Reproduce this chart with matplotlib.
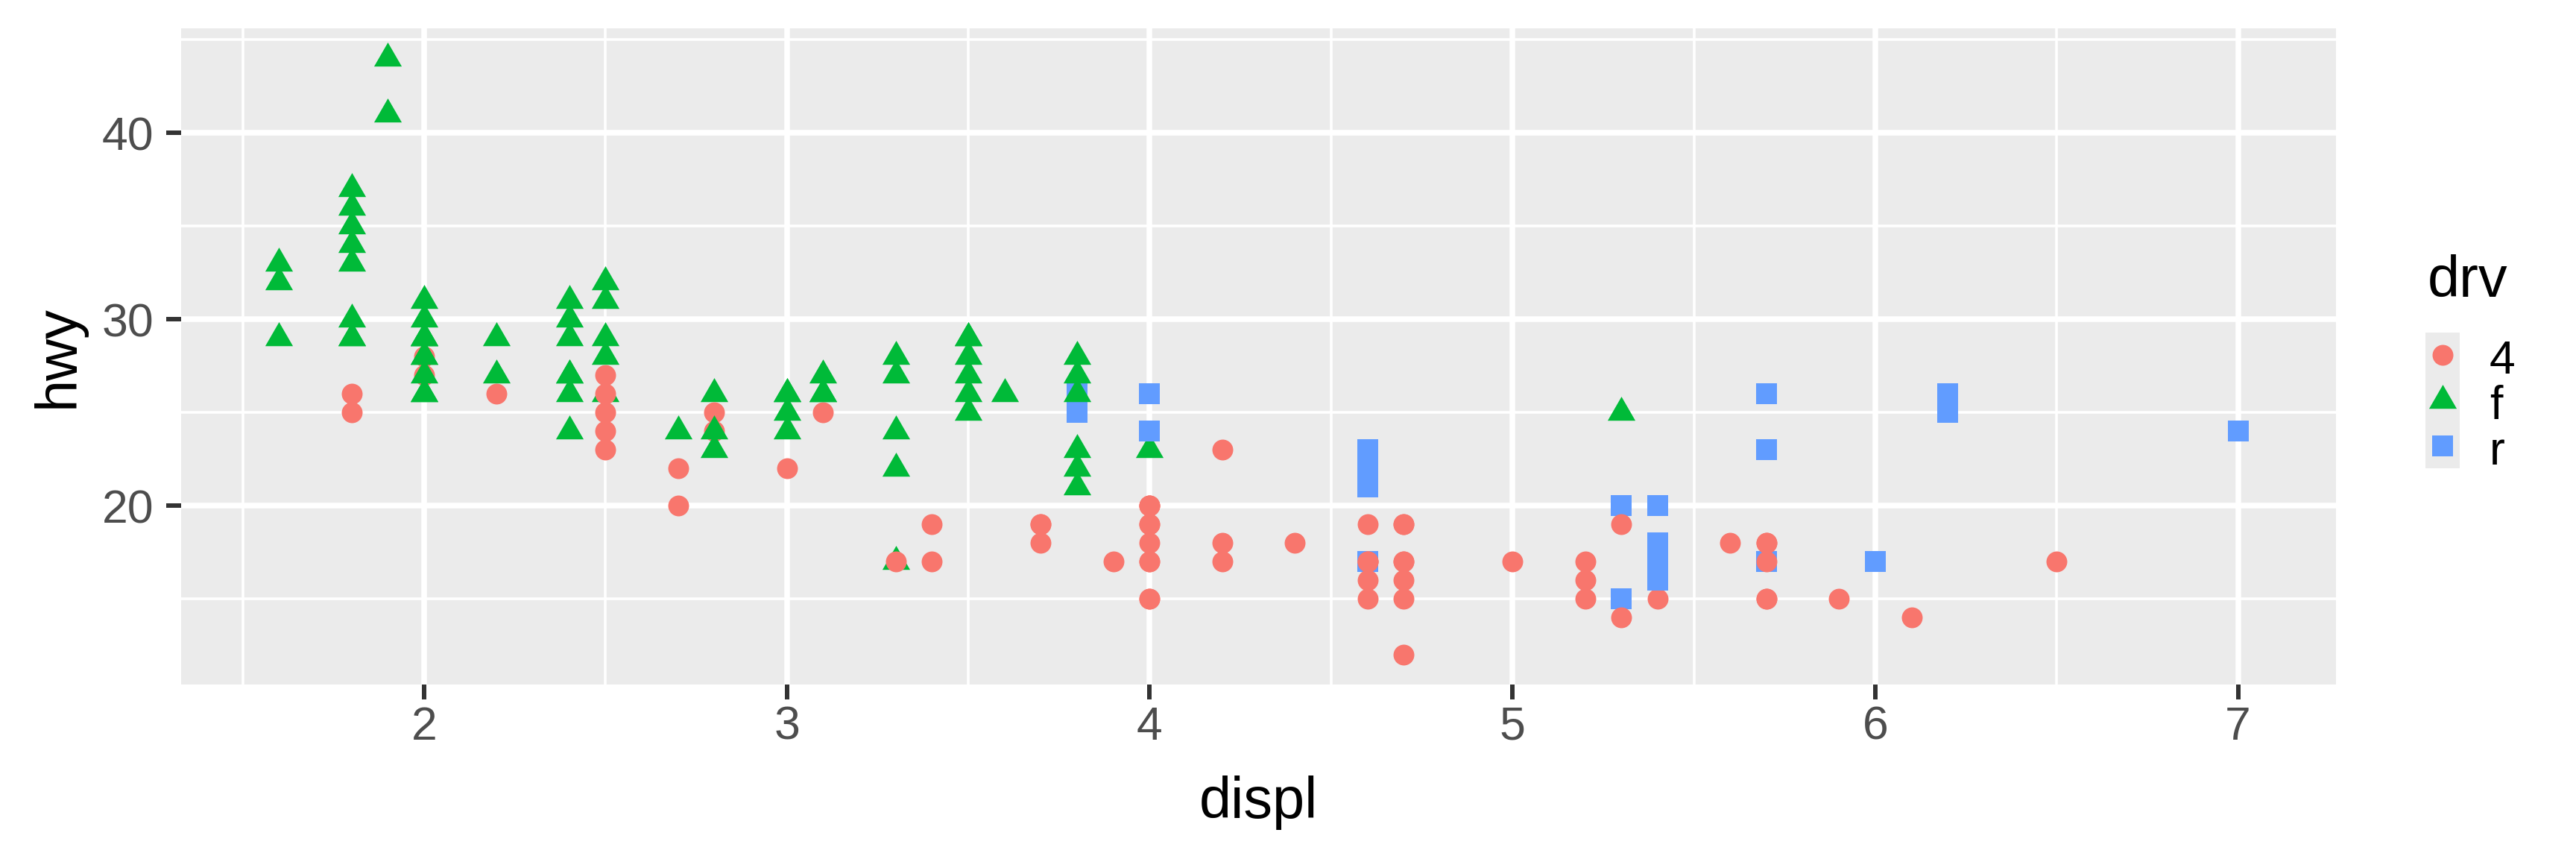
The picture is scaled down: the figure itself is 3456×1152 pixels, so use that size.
import matplotlib
matplotlib.use("Agg")
import matplotlib.pyplot as plt
from matplotlib.path import Path

plt.rcParams['font.family'] = ['Liberation Sans', 'DejaVu Sans']

# ---- data (mpg: displ vs hwy by drv), in drawing order ----
displ = [
    # audi
    1.8, 2.0, 2.0, 2.8, 3.1,
    1.8, 1.8, 2.0, 2.0, 2.8, 3.1, 2.8, 4.2,
    # chevrolet
    5.3, 5.3, 5.7, 6.0, 5.7, 5.7, 6.2, 6.2, 7.0,
    5.3, 5.3, 5.7, 6.5,
    2.4, 2.4, 3.1, 3.5, 3.6,
    # dodge
    2.4, 3.0, 3.3, 3.3, 3.3, 3.8, 3.8, 3.8, 4.0,
    3.7, 3.7, 3.9, 4.7, 4.7, 5.2, 5.2, 4.7, 5.2, 5.7, 5.7, 5.9, 4.7,
    # ford
    4.6, 5.4, 5.4,
    4.0, 4.0, 4.6, 5.0, 4.2, 4.6, 4.6, 5.4,
    3.8, 3.8, 4.0, 4.0, 4.6, 4.6, 4.6, 5.4,
    # honda
    1.6, 1.6, 1.6, 1.8, 1.8, 2.0,
    # hyundai
    2.4, 2.4, 2.5, 3.3, 2.0, 2.0, 2.0, 2.7,
    # jeep
    3.0, 3.7, 4.0, 4.7, 5.7, 6.1, 4.0,
    # land rover
    4.0, 4.2, 4.4, 4.6,
    # lincoln
    5.4, 5.4, 5.4,
    # mercury
    4.0, 4.6, 4.6,
    # nissan
    2.5, 2.5, 3.5, 3.5, 3.0, 3.0, 3.5, 3.3, 4.0, 5.6,
    # pontiac
    3.1, 3.8, 3.8, 3.8, 5.3,
    # subaru
    2.5, 2.5, 2.5, 2.5, 2.5, 2.2,
    # toyota
    2.7, 2.7, 3.4, 3.4, 4.0, 4.7, 2.2, 2.2, 2.4, 2.4, 3.0, 3.3, 3.5, 3.5,
    1.8, 1.8, 1.8, 4.7, 5.7, 4.0, 4.0,
    # volkswagen
    1.9, 1.9, 2.0, 2.0, 2.0, 2.0, 1.8, 1.8, 2.5, 2.5, 2.8, 2.8,
]
hwy = [
    29, 31, 30, 26, 27,
    26, 25, 28, 27, 25, 25, 24, 23,
    20, 15, 17, 17, 26, 23, 26, 25, 24,
    19, 14, 15, 17,
    27, 30, 26, 29, 26,
    24, 24, 22, 24, 17, 22, 21, 23, 23,
    19, 18, 17, 19, 12, 17, 15, 17, 16, 18, 17, 15, 16,
    17, 17, 18,
    17, 19, 19, 17, 17, 16, 17, 15,
    26, 25, 26, 24, 21, 22, 23, 20,
    33, 32, 29, 34, 36, 29,
    26, 27, 26, 28, 26, 29, 28, 24,
    22, 19, 20, 19, 18, 14, 18,
    15, 18, 18, 17,
    16, 17, 18,
    19, 17, 15,
    31, 32, 27, 26, 26, 25, 25, 17, 20, 18,
    26, 27, 28, 26, 25,
    26, 25, 24, 23, 27, 26,
    20, 22, 19, 17, 20, 17, 29, 27, 31, 29, 26, 27, 28, 29,
    35, 37, 33, 15, 15, 17, 15,
    44, 41, 29, 28, 26, 27, 29, 30, 29, 28, 24, 23,
]
drv = (
    ['f'] * 5 + ['4'] * 8 +
    ['r'] * 9 + ['4'] * 4 + ['f'] * 5 +
    ['f'] * 9 + ['4'] * 13 +
    ['r'] * 3 + ['4'] * 8 + ['r'] * 8 +
    ['f'] * 6 +
    ['f'] * 8 +
    ['4'] * 7 +
    ['4'] * 4 +
    ['r'] * 3 +
    ['4'] * 3 +
    ['f'] * 7 + ['4'] * 3 +
    ['f'] * 5 +
    ['4'] * 6 +
    ['4'] * 6 + ['f'] * 8 + ['f'] * 3 + ['4'] * 4 +
    ['f'] * 12
)
drv_levels = ['4', 'f', 'r']
x_ticks = [2, 3, 4, 5, 6, 7]
y_ticks = [20, 30, 40]

# ---- styles ----
colors = {'4': '#F8766D', 'f': '#00BA38', 'r': '#619CFF'}
tri = Path([(0, 1.1547), (-1, -0.5774), (1, -0.5774), (0, 1.1547)],
           [Path.MOVETO, Path.LINETO, Path.LINETO, Path.CLOSEPOLY])
markers = {'4': 'o', 'f': tri, 'r': 's'}
sizes = {'4': 45, 'f': 106, 'r': 44}

W, H = 3456, 1152
fig = plt.figure(figsize=(11.52, 3.84), dpi=300)
L, R, T, B = 243, 3134, 38, 918
ax = fig.add_axes([L / W, 1 - B / H, (R - L) / W, (B - T) / H])
ax.set_facecolor('#EBEBEB')
for s in ax.spines.values():
    s.set_visible(False)

for x, y, d in zip(displ, hwy, drv):
    ax.scatter([x], [y], marker=markers[d], s=sizes[d], c=colors[d],
               linewidths=0, zorder=3)

xr = max(displ) - min(displ)
yr = max(hwy) - min(hwy)
ax.set_xlim(min(displ) - 0.05 * xr, max(displ) + 0.05 * xr)
ax.set_ylim(min(hwy) - 0.05 * yr, max(hwy) + 0.05 * yr)

ax.set_xticks(x_ticks)
ax.set_xticklabels([str(v) for v in x_ticks])
ax.set_yticks(y_ticks)
ax.set_yticklabels([str(v) for v in y_ticks])
ax.set_xticks([v + 0.5 for v in range(1, 7)], minor=True)
ax.set_yticks([15, 25, 35, 45], minor=True)
ax.grid(which='major', color='white', linewidth=1.8)
ax.grid(which='minor', color='white', linewidth=0.86)
ax.set_axisbelow(True)
ax.tick_params(which='major', length=4.8, width=1.44, color='#333333',
               labelcolor='#4D4D4D', labelsize=15.0)
ax.tick_params(axis='x', which='major', pad=1.8)
ax.tick_params(axis='y', which='major', pad=4.0)
ax.tick_params(which='minor', length=0)

# axis titles
fig.text((L + R) / 2 / W, 1 - 1097 / H, 'displ', fontsize=18.6,
         ha='center', va='baseline', color='black')
fig.text(99 / W, 1 - (T + B) / 2 / H, 'hwy', fontsize=18.6, rotation=90,
         rotation_mode='anchor', ha='center', va='baseline', color='black')

# legend
kl, kr, kt, kb = 3254, 3300, 446, 628
lax = fig.add_axes([kl / W, 1 - kb / H, (kr - kl) / W, (kb - kt) / H])
lax.set_facecolor('#EBEBEB')
for s in lax.spines.values():
    s.set_visible(False)
lax.set_xticks([])
lax.set_yticks([])
lax.set_xlim(-0.5, 0.5)
lax.set_ylim(len(drv_levels) - 0.5, -0.5)
step = (kb - kt) / len(drv_levels)
for i, d in enumerate(drv_levels):
    lax.scatter([0], [i], marker=markers[d], s=sizes[d], c=colors[d], linewidths=0)
    cy = kt + step * (i + 0.5)
    fig.text(3340 / W, 1 - (cy + 25) / H, d, fontsize=15.0, ha='left',
             va='baseline', color='black')
fig.text(3257 / W, 1 - 398 / H, 'drv', fontsize=18.6, ha='left',
         va='baseline', color='black')

fig.savefig('out.png', dpi=300)
